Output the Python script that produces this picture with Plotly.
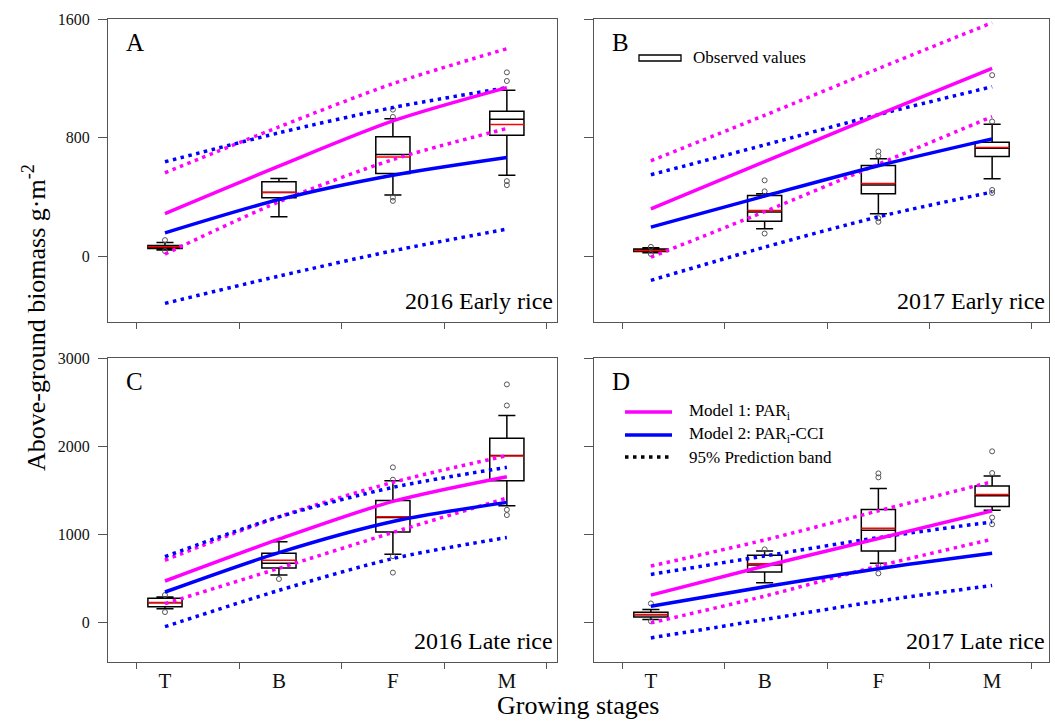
import plotly.graph_objects as go

# ---------------- data ----------------
STAGES = ["T", "B", "F", "M"]
STAGE_POS = [1, 2, 3, 4]
TICK_MARKS = [0.75, 1.65, 2.55, 3.45, 4.35]

# Panel A: 2016 Early rice
A_lo = [45, 269, 415, 549]
A_q1 = [56, 397, 560, 818]
A_med = [66, 432, 688, 925]
A_q3 = [76, 504, 807, 979]
A_hi = [96, 527, 928, 1120]
A_mean = [68, 434, 672, 890]
A_out = [[112, 38], [], [941, 990, 399, 376], [1183, 1241, 509, 482]]
A_m1 = [291, 610, 914, 1138]
A_m2 = [161, 385, 549, 668]
A_m1_up = [565, 874, 1165, 1400]
A_m1_lo = [18, 370, 654, 863]
A_m2_up = [639, 834, 1004, 1138]
A_m2_lo = [-314, -130, 40, 186]

# Panel B: 2017 Early rice
B_lo = [22, 184, 285, 522]
B_q1 = [30, 235, 421, 672]
B_med = [38, 298, 480, 728]
B_q3 = [47, 408, 612, 769]
B_hi = [56, 421, 657, 890]
B_mean = [38, 307, 489, 733]
B_out = [[62, 14], [437, 511, 152], [677, 706, 255, 231], [908, 1221, 446, 426]]
B_m1 = [318, 638, 955, 1266]
B_m2 = [195, 405, 610, 791]
B_m1_up = [643, 950, 1265, 1575]
B_m1_lo = [-7, 300, 620, 941]
B_m2_up = [549, 750, 955, 1143]
B_m2_lo = [-164, 60, 265, 432]

# Panel C: 2016 Late rice
C_lo = [159, 542, 777, 1326]
C_q1 = [182, 621, 1027, 1610]
C_med = [227, 674, 1193, 1894]
C_q3 = [277, 788, 1386, 2091]
C_hi = [292, 917, 1610, 2349]
C_mean = [230, 708, 1201, 1890]
C_out = [[121, 314], [496], [1621, 1761, 754, 568], [2462, 2701, 1280, 1220]]
C_m1 = [473, 947, 1375, 1655]
C_m2 = [348, 795, 1148, 1364]
C_m1_up = [708, 1200, 1591, 1894]
C_m1_lo = [216, 617, 1023, 1413]
C_m2_up = [750, 1200, 1534, 1761]
C_m2_lo = [-45, 367, 727, 966]

# Panel D: 2017 Late rice
D_lo = [38, 455, 674, 1277]
D_q1 = [68, 576, 814, 1318]
D_med = [92, 655, 1049, 1439]
D_q3 = [121, 765, 1284, 1549]
D_hi = [152, 814, 1523, 1663]
D_mean = [95, 670, 1072, 1455]
D_out = [[220, 19], [833], [1693, 1648, 652, 561], [1697, 1943, 1193, 1117]]
D_m1 = [314, 644, 955, 1269]
D_m2 = [189, 409, 614, 788]
D_m1_up = [644, 939, 1269, 1599]
D_m1_lo = [0, 303, 644, 947]
D_m2_up = [549, 758, 966, 1144]
D_m2_lo = [-170, 38, 246, 424]

# ---------------- styling ----------------
W, H = 1055, 721
FONT = "Liberation Serif, Times New Roman, serif"
MAGENTA = "#FF00FF"
BLUE = "#0000FF"
AXC = "#555555"
DOT = "3.5px,4.5px"


def px(x):
    return x / W


def py(y):
    return 1 - y / H


panels = [
    dict(letter="A", title="2016 Early rice", sfx="", xd=(108, 557), yd=(19, 322),
         yr=[-439, 1600], yt=[0, 800, 1600], xr=[0.5, 4.44], ylab=True, xlab=False,
         lo=A_lo, q1=A_q1, med=A_med, q3=A_q3, hi=A_hi, mean=A_mean, out=A_out,
         m1=A_m1, m2=A_m2, m1u=A_m1_up, m1l=A_m1_lo, m2u=A_m2_up, m2l=A_m2_lo),
    dict(letter="B", title="2017 Early rice", sfx="2", xd=(594, 1049), yd=(19, 322),
         yr=[-445, 1600], yt=[0, 800, 1600], xr=[0.5, 4.5], ylab=False, xlab=False,
         lo=B_lo, q1=B_q1, med=B_med, q3=B_q3, hi=B_hi, mean=B_mean, out=B_out,
         m1=B_m1, m2=B_m2, m1u=B_m1_up, m1l=B_m1_lo, m2u=B_m2_up, m2l=B_m2_lo),
    dict(letter="C", title="2016 Late rice", sfx="3", xd=(108, 557), yd=(358, 662),
         yr=[-445, 3000], yt=[0, 1000, 2000, 3000], xr=[0.5, 4.44], ylab=True, xlab=True,
         lo=C_lo, q1=C_q1, med=C_med, q3=C_q3, hi=C_hi, mean=C_mean, out=C_out,
         m1=C_m1, m2=C_m2, m1u=C_m1_up, m1l=C_m1_lo, m2u=C_m2_up, m2l=C_m2_lo),
    dict(letter="D", title="2017 Late rice", sfx="4", xd=(594, 1049), yd=(358, 662),
         yr=[-443, 3000], yt=[0, 1000, 2000, 3000], xr=[0.5, 4.5], ylab=False, xlab=True,
         lo=D_lo, q1=D_q1, med=D_med, q3=D_q3, hi=D_hi, mean=D_mean, out=D_out,
         m1=D_m1, m2=D_m2, m1u=D_m1_up, m1l=D_m1_lo, m2u=D_m2_up, m2l=D_m2_lo),
]

fig = go.Figure()
layout = {}
annotations = []
shapes = []

for p in panels:
    xa = "x" + p["sfx"]
    ya = "y" + p["sfx"]
    # box plots
    fig.add_trace(go.Box(
        x=STAGE_POS, q1=p["q1"], median=p["med"], q3=p["q3"],
        lowerfence=p["lo"], upperfence=p["hi"],
        xaxis=xa, yaxis=ya, width=0.3, whiskerwidth=0.5,
        fillcolor="white", line=dict(color="black", width=1.5),
        boxpoints=False, showlegend=False, hoverinfo="skip"))
    # mean lines (red)
    mx, my = [], []
    for xpos, m in zip(STAGE_POS, p["mean"]):
        mx += [xpos - 0.15, xpos + 0.15, None]
        my += [m, m, None]
    fig.add_trace(go.Scatter(x=mx, y=my, mode="lines", xaxis=xa, yaxis=ya,
                             line=dict(color="#FF0000", width=1.5),
                             showlegend=False, hoverinfo="skip"))
    # outliers
    ox, oy = [], []
    for xpos, vals in zip(STAGE_POS, p["out"]):
        for v in vals:
            ox.append(xpos)
            oy.append(v)
    fig.add_trace(go.Scatter(x=ox, y=oy, mode="markers", xaxis=xa, yaxis=ya,
                             marker=dict(symbol="circle-open", size=5,
                                         color="#555555", line=dict(width=1)),
                             showlegend=False, hoverinfo="skip"))
    # model lines
    for key, col, dash in [("m1u", MAGENTA, DOT), ("m1l", MAGENTA, DOT),
                           ("m2u", BLUE, DOT), ("m2l", BLUE, DOT),
                           ("m2", BLUE, "solid"), ("m1", MAGENTA, "solid")]:
        fig.add_trace(go.Scatter(x=STAGE_POS, y=p[key], mode="lines",
                                 xaxis=xa, yaxis=ya,
                                 line=dict(color=col, width=3.5, dash=dash,
                                           shape="spline", smoothing=0.8),
                                 showlegend=False, hoverinfo="skip"))

    xkey = "xaxis" + p["sfx"]
    ykey = "yaxis" + p["sfx"]
    layout[xkey] = dict(
        domain=[px(p["xd"][0]), px(p["xd"][1])], range=p["xr"], anchor=ya,
        automargin=False,
        showline=True, mirror=True, linecolor=AXC, linewidth=1.3,
        showgrid=False, zeroline=False, tickmode="array",
        tickvals=STAGE_POS, ticktext=STAGES, ticks="", ticklabelstandoff=0,
        showticklabels=p["xlab"], tickfont=dict(family=FONT, size=21, color="#111"),
        minor=dict(tickmode="array", tickvals=TICK_MARKS, ticks="outside",
                   ticklen=6, tickwidth=1.3, tickcolor=AXC, showgrid=False))
    layout[ykey] = dict(
        domain=[py(p["yd"][1]), py(p["yd"][0])], range=p["yr"], anchor=xa,
        automargin=False,
        showline=True, mirror=True, linecolor=AXC, linewidth=1.3,
        showgrid=False, zeroline=False, tickmode="array", tickvals=p["yt"],
        ticks="outside", ticklen=9, tickwidth=1.3, tickcolor=AXC,
        showticklabels=p["ylab"], ticklabelstandoff=5,
        tickfont=dict(family=FONT, size=16, color="#111"))
    # panel letter
    annotations.append(dict(text=p["letter"], xref=xa + " domain", yref=ya + " domain",
                            x=0.035, y=0.975, xanchor="left", yanchor="top",
                            showarrow=False, font=dict(family=FONT, size=25, color="black")))
    # panel title
    annotations.append(dict(text=p["title"], xref=xa + " domain", yref=ya + " domain",
                            x=0.995, y=0.02, xanchor="right", yanchor="bottom",
                            showarrow=False, font=dict(family=FONT, size=24, color="black")))

# legend in panel B
shapes.append(dict(type="rect", xref="paper", yref="paper",
                   x0=px(639), x1=px(681), y0=py(61), y1=py(55),
                   line=dict(color="black", width=1.3), fillcolor="white"))
annotations.append(dict(text="Observed values", xref="paper", yref="paper",
                        x=px(691), y=py(58), xanchor="left", yanchor="middle",
                        showarrow=False, font=dict(family=FONT, size=17, color="black")))

# legend in panel D
for yy, col, dash, lab in [(412, MAGENTA, "solid", "Model 1: PAR<sub>i</sub>"),
                           (435, BLUE, "solid", "Model 2: PAR<sub>i</sub>-CCI"),
                           (457, "black", DOT, "95% Prediction band")]:
    shapes.append(dict(type="line", xref="paper", yref="paper",
                       x0=px(625), x1=px(672), y0=py(yy), y1=py(yy),
                       line=dict(color=col, width=3.5, dash=dash)))
    annotations.append(dict(text=lab, xref="paper", yref="paper",
                            x=px(687), y=py(yy), xanchor="left", yanchor="middle",
                            showarrow=False, font=dict(family=FONT, size=17, color="black")))

# axis titles
annotations.append(dict(text="Above-ground biomass g·m<sup>-2</sup>", xref="paper", yref="paper",
                        x=px(34), y=py(318), textangle=-90, showarrow=False,
                        xanchor="center", yanchor="middle",
                        font=dict(family=FONT, size=26, color="black")))
annotations.append(dict(text="Growing stages", xref="paper", yref="paper",
                        x=px(578), y=py(705), showarrow=False,
                        xanchor="center", yanchor="middle",
                        font=dict(family=FONT, size=26, color="black")))

fig.update_layout(**layout)
fig.update_layout(template="none", width=W, height=H,
                  margin=dict(l=0, r=0, t=0, b=0, pad=0),
                  paper_bgcolor="white", plot_bgcolor="white",
                  annotations=annotations, shapes=shapes, showlegend=False)

fig.write_html("out.html", config={"displayModeBar": False},
               post_script="document.body.style.margin='0';document.body.style.overflow='hidden';")
